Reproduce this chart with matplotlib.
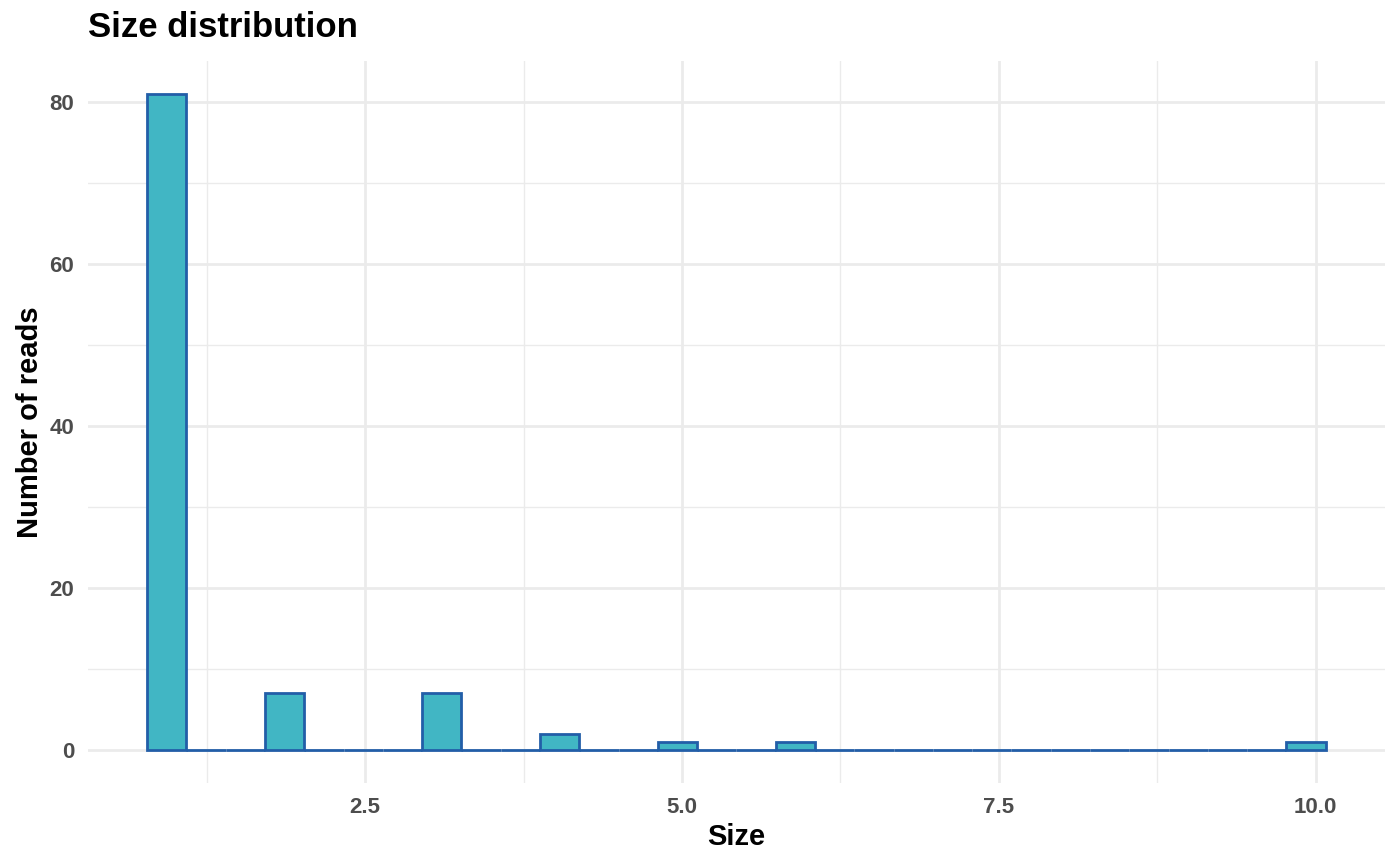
import numpy as np
import matplotlib
matplotlib.use('Agg')
import matplotlib.pyplot as plt

plt.rcParams['font.family'] = ['Liberation Sans', 'DejaVu Sans']

# ── 数据 ──
sizes = [1, 2, 3, 4, 5, 6, 10]
reads = [81, 7, 7, 2, 1, 1, 1]

# 30 个 bin（和原图 ggplot 的分箱对齐）
bin_start = 0.78
bin_width = 0.31
n_bins = 30
bins = bin_start + bin_width * np.arange(n_bins + 1)

FILL = '#41B6C4'
EDGE = '#225EA8'
GRID = '#EBEBEB'
TICK = '#4D4D4D'

fig = plt.figure(figsize=(14, 8.66), dpi=100)
ax = fig.add_axes([0.063, 0.096, 0.926, 0.833])

ax.hist(sizes, bins=bins, weights=reads, color=FILL, edgecolor=EDGE,
        linewidth=2, zorder=3)

lo, hi = bins[0], bins[-1]
pad = (hi - lo) * 0.05
ax.set_xlim(lo - pad, hi + pad)
ymax = max(reads)
ax.set_ylim(-ymax * 0.05, ymax * 1.05)

ax.set_xticks([2.5, 5.0, 7.5, 10.0])
ax.set_xticklabels(['2.5', '5.0', '7.5', '10.0'])
ax.set_xticks([1.25, 3.75, 6.25, 8.75], minor=True)
ax.set_yticks([0, 20, 40, 60, 80])
ax.set_yticks([10, 30, 50, 70], minor=True)

ax.grid(which='major', color=GRID, linewidth=2, zorder=0)
ax.grid(which='minor', color=GRID, linewidth=1, zorder=0)
for s in ax.spines.values():
    s.set_visible(False)
ax.tick_params(which='both', length=0)
ax.tick_params(labelsize=16, labelcolor=TICK, pad=10)
for lab in ax.get_xticklabels() + ax.get_yticklabels():
    lab.set_fontweight('bold')

ax.set_xlabel('Size', fontsize=21, fontweight='bold', labelpad=4)
ax.set_ylabel('Number of reads', fontsize=21, fontweight='bold', labelpad=4)
fig.text(0.063, 0.968, 'Size distribution', fontsize=25, fontweight='bold',
         ha='left', va='center')

fig.savefig('out.png', dpi=100)
